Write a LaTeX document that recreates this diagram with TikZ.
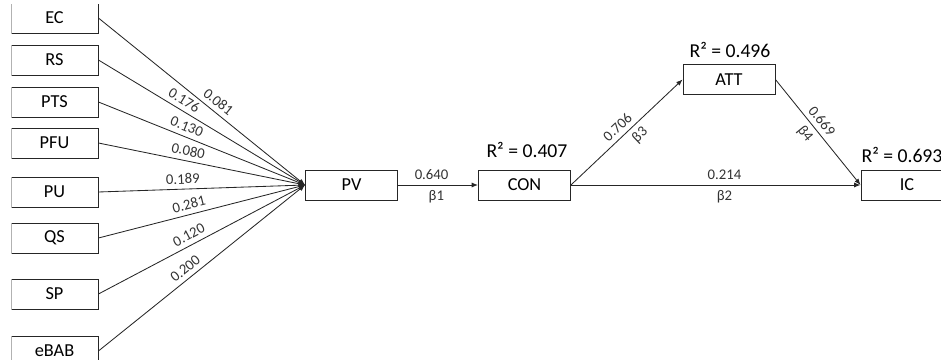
\documentclass[tikz,border=0pt]{standalone}
\usepackage{fontspec}
\setmainfont{Carlito}
\usetikzlibrary{arrows.meta}

\begin{document}
\begin{tikzpicture}[
    x=0.025cm, y=-0.025cm,
    line width=0.6pt,
    arrow/.style={draw=black!85, -{Latex[length=4.5pt,width=3.5pt]}},
    construct/.style={
      rectangle,
      draw=black!85,
      minimum width=2.3cm,
      minimum height=0.75cm,
      inner sep=0pt,
      font=\fontsize{13}{15}\selectfont
    },
    item/.style={construct, minimum width=2.175cm},
    coef/.style={font=\fontsize{10.5}{12}\selectfont, text=black!80, sloped},
    rsq/.style={font=\fontsize{14}{16}\selectfont}
  ]

  \path[use as bounding box] (0,0) rectangle (941,360);
  \clip (11.5,4.5) rectangle (980,380);

  % =====================================================
  % INDICATORS (LEFT COLUMN)
  % =====================================================
  \foreach \nm/\lab/\yy in {ec/EC/18,rs/RS/60,pts/PTS/102,pfu/PFU/143,
      pu/PU/192,qs/QS/238,sp/SP/294,ebab/eBAB/351}{
    \node[item] (\nm) at (54.5,\yy) {\lab};
  }

  % =====================================================
  % CONSTRUCTS
  % =====================================================
  \node[construct] (pv)  at (351.5,185) {PV};
  \node[construct] (con) at (524.5,185) {CON};
  \node[construct] (att) at (729,79.5)  {ATT};
  \node[construct] (ic)  at (907,185)   {IC};

  \node[rsq] (r2con) at (527,150) {R² = 0.407};
  \node[rsq] (r2att) at (730,50)  {R² = 0.496};
  \node[rsq] (r2ic)  at (902,155) {R² = 0.693};

  % =====================================================
  % PATHS
  % =====================================================
  \foreach \nm/\val/\p in {ec/0.081/0.55,rs/0.176/0.39,pts/0.130/0.41,
      pfu/0.080/0.425,pu/0.189/0.41,qs/0.281/0.45,sp/0.120/0.46,
      ebab/0.200/0.45}{
    \draw[arrow] (\nm.east) -- node[coef, above, pos=\p] {\val} (pv.west);
  }

  \draw[arrow] (pv.east) --
  node[coef, above, pos=0.42] {0.640}
  node[coef, below, pos=0.48] {β1} (con.west);

  \draw[arrow] (con.east) --
  node[coef, above, pos=0.48] {0.706}
  node[coef, below, pos=0.55] {β3} (att.west);

  \draw[arrow] (con.east) --
  node[coef, above, pos=0.53] {0.214}
  node[coef, below, pos=0.53] {β2} (ic.west);

  \draw[arrow] (att.east) --
  node[coef, above, pos=0.455] {0.669}
  node[coef, below, pos=0.45] {β4} (ic.west);

\end{tikzpicture}
\end{document}
